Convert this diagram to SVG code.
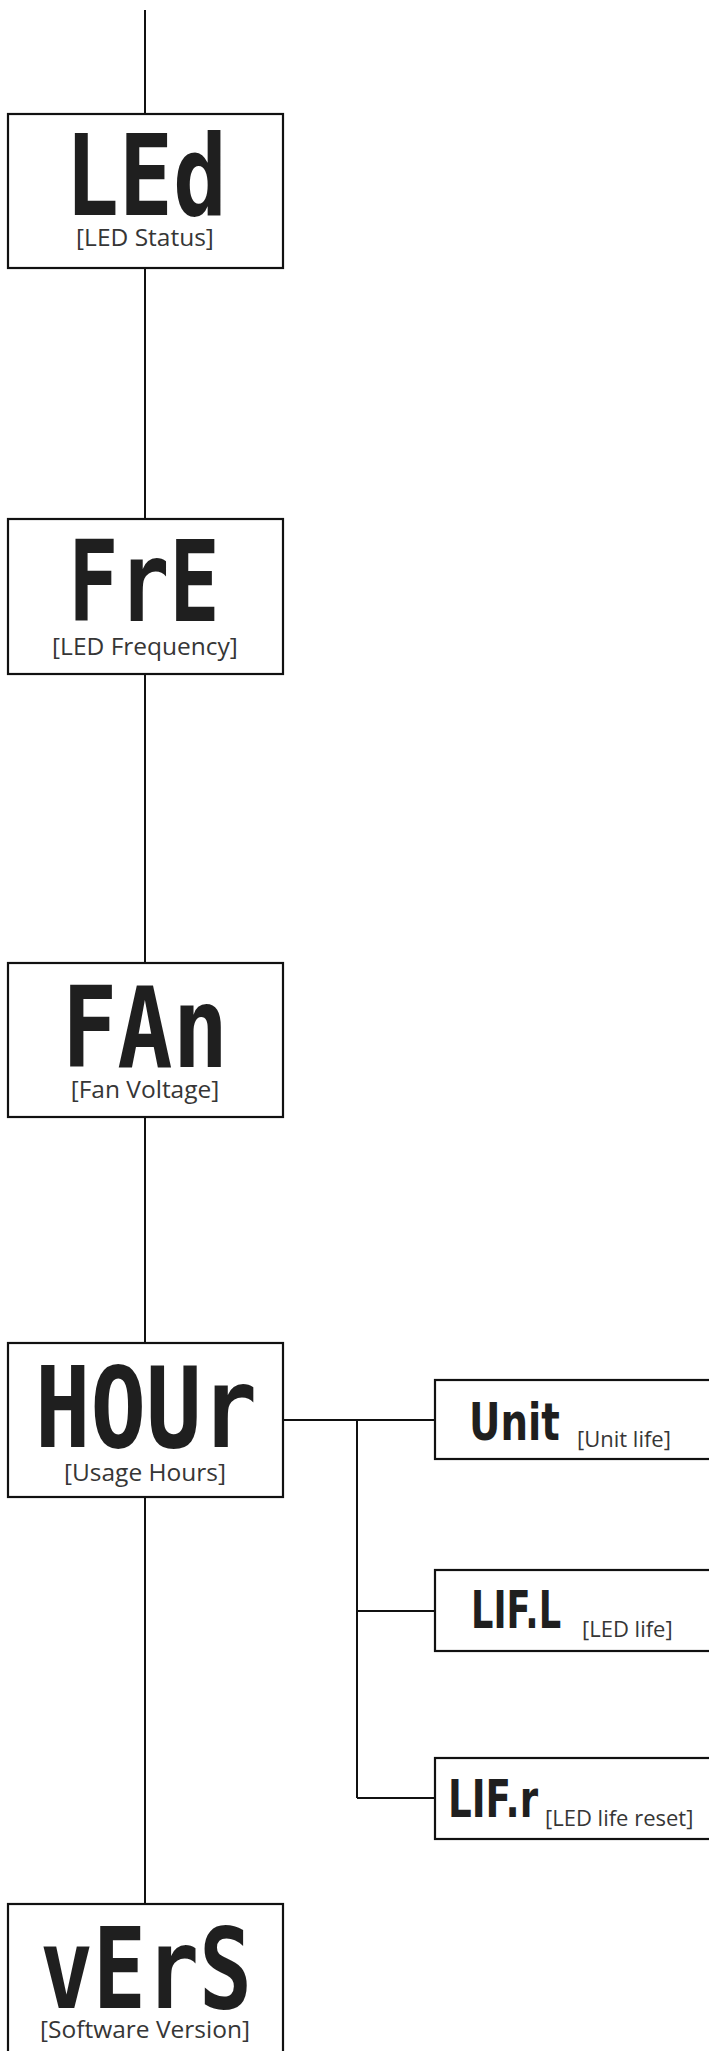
<svg xmlns="http://www.w3.org/2000/svg" width="709" height="2051" viewBox="0 0 709 2051">
<style>
.box{fill:#fff;stroke:#111;stroke-width:2.2}
.con{fill:none;stroke:#111;stroke-width:2}
.seg{fill:#1f1f1f;font-weight:bold}
.big{font-family:"DejaVu Sans Mono","Liberation Mono",monospace;font-size:112px;text-anchor:middle}
.sm{font-family:"DejaVu Sans","Liberation Sans",sans-serif;font-size:51px}
.lbl{font-family:"Open Sans","Liberation Sans",sans-serif;fill:#363636}
.lb{font-size:24.5px;text-anchor:middle}
.ls{font-size:22px}
</style>
<rect width="709" height="2051" fill="#fff"/>
<g id="connectors">
<line class="con" x1="145" y1="10" x2="145" y2="114"/>
<line class="con" x1="145" y1="268" x2="145" y2="519"/>
<line class="con" x1="145" y1="674" x2="145" y2="963"/>
<line class="con" x1="145" y1="1117" x2="145" y2="1343"/>
<line class="con" x1="145" y1="1497" x2="145" y2="1904"/>
<line class="con" x1="283" y1="1420" x2="435" y2="1420"/>
<line class="con" x1="357" y1="1420" x2="357" y2="1798"/>
<line class="con" x1="357" y1="1611" x2="435" y2="1611"/>
<line class="con" x1="357" y1="1798" x2="435" y2="1798"/>
</g>
<g id="node-led">
<rect class="box" x="8" y="114" width="275" height="154"/>
<text class="seg big" x="146" y="215" textLength="162" lengthAdjust="spacingAndGlyphs">LEd</text>
<text class="lbl lb" x="145" y="246">[LED Status]</text>
</g>
<g id="node-fre">
<rect class="box" x="8" y="519" width="275" height="155"/>
<text class="seg big" x="144" y="621" textLength="152" lengthAdjust="spacingAndGlyphs">FrE</text>
<text class="lbl lb" x="145" y="655">[LED Frequency]</text>
</g>
<g id="node-fan">
<rect class="box" x="8" y="963" width="275" height="154"/>
<text class="seg big" x="145" y="1067" textLength="166" lengthAdjust="spacingAndGlyphs">FAn</text>
<text class="lbl lb" x="145" y="1098">[Fan Voltage]</text>
</g>
<g id="node-hour">
<rect class="box" x="8" y="1343" width="275" height="154"/>
<text class="seg big" x="146" y="1447" textLength="222" lengthAdjust="spacingAndGlyphs">HOUr</text>
<text class="lbl lb" x="145" y="1481">[Usage Hours]</text>
</g>
<g id="node-vers">
<rect class="box" x="8" y="1904" width="275" height="200"/>
<text class="seg big" x="146" y="2008" textLength="212" lengthAdjust="spacingAndGlyphs">vErS</text>
<text class="lbl lb" x="145" y="2038">[Software Version]</text>
</g>
<g id="node-unit">
<rect class="box" x="435" y="1380" width="300" height="79"/>
<text class="seg sm" transform="translate(469,1440) scale(0.76,1)">Unit</text>
<text class="lbl ls" x="577" y="1447">[Unit life]</text>
</g>
<g id="node-lifl">
<rect class="box" x="435" y="1570" width="300" height="81"/>
<text class="seg sm" transform="translate(471,1628) scale(0.69,1)">LIF.L</text>
<text class="lbl ls" x="582" y="1637">[LED life]</text>
</g>
<g id="node-lifr">
<rect class="box" x="435" y="1758" width="300" height="81"/>
<text class="seg sm" transform="translate(448,1817) scale(0.73,1)">LIF.r</text>
<text class="lbl ls" x="545" y="1826">[LED life reset]</text>
</g>
</svg>
